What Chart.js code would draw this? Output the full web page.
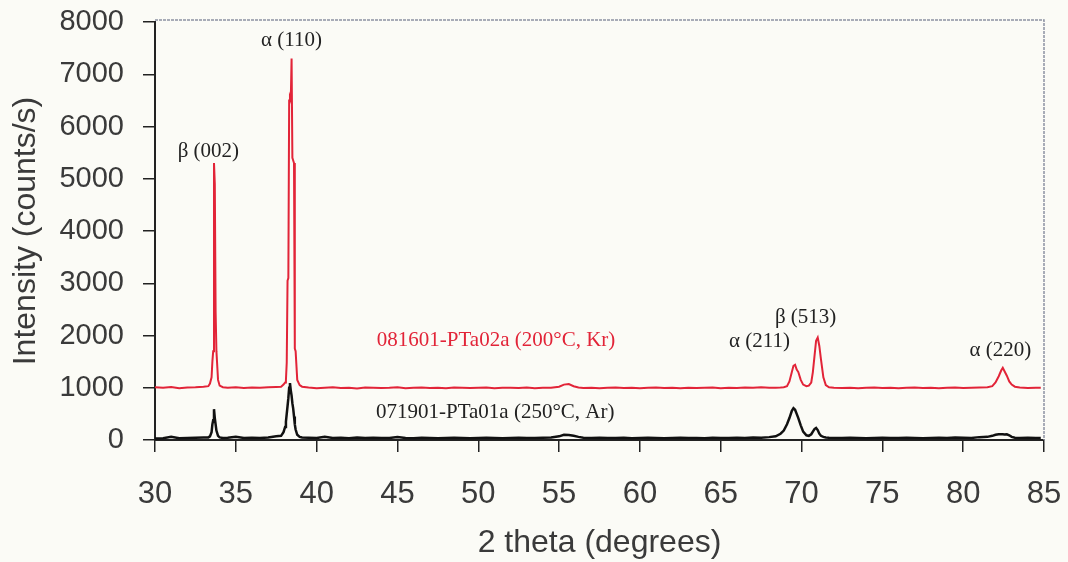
<!DOCTYPE html>
<html>
<head>
<meta charset="utf-8">
<script src="https://cdn.jsdelivr.net/npm/chart.js@4/dist/chart.umd.min.js"></script>
<style>
  html, body { margin: 0; padding: 0; background: #fbfbf6; }
  #box { width: 1068px; height: 562px; }
</style>
</head>
<body>
<div id="box"><canvas id="xrdChart"></canvas></div>
<script>
// 2 theta positions (degrees), shared by both scans
const twoTheta = [
    30.0, 30.5, 31.0, 31.5, 32.0, 32.5, 33.0,
    33.3, 33.4, 33.5, 33.55, 33.6, 33.65, 33.7, 33.75, 33.8, 33.9, 34.0, 34.2,
    34.5, 35.0, 35.5, 36.0, 36.5, 37.0, 37.5,
    37.8, 37.95, 38.05, 38.1, 38.15, 38.2, 38.25, 38.3, 38.35, 38.4,
    38.45, 38.5, 38.55, 38.6, 38.65, 38.7, 38.8, 38.95, 39.1,
    39.5, 40.0, 40.5, 41.0, 41.5, 42.0, 42.5, 43.0, 43.5, 44.0,
    44.5, 45.0, 45.5, 46.0, 46.5, 47.0, 47.5, 48.0, 48.5, 49.0,
    49.5, 50.0, 50.5, 51.0, 51.5, 52.0, 52.5, 53.0, 53.5, 54.0,
    54.5, 55.0, 55.3, 55.6, 55.9, 56.2, 56.5, 57.0, 57.5, 58.0,
    58.5, 59.0, 59.5, 60.0, 60.5, 61.0, 61.5, 62.0, 62.5, 63.0,
    63.5, 64.0, 64.5, 65.0, 65.5, 66.0, 66.5, 67.0, 67.5, 68.0,
    68.4, 68.7, 68.9, 69.1, 69.25, 69.4, 69.5, 69.6, 69.7, 69.8,
    69.95, 70.1, 70.3, 70.45, 70.6, 70.7, 70.8, 70.9, 71.0, 71.1,
    71.2, 71.35, 71.5, 71.7, 72.0,
    72.5, 73.0, 73.5, 74.0, 74.5, 75.0, 75.5, 76.0, 76.5, 77.0,
    77.5, 78.0, 78.5, 79.0, 79.5, 80.0, 80.5, 81.0, 81.5,
    81.8, 82.0, 82.2, 82.35, 82.45, 82.55, 82.7, 82.85, 83.0, 83.2,
    83.5, 84.0, 84.5, 84.8
];

// 081601-PTa02a (200°C, Kr), counts/s
const krIntensity = [
    1010, 1000, 1015, 990, 1005, 1010, 1020,
    1030, 1080, 1200, 1500, 1700, 5300, 4900, 2450, 1700, 1150, 1040, 1010,
    1000, 1010, 995, 1005, 1000, 1010, 1015,
    1020, 1060, 1100, 1150, 1480, 3050, 3100, 6500, 6550, 6500,
    7300, 5400, 5350, 5300, 1750, 1700, 1150, 1050, 1020,
    1005, 990, 1000, 1010, 995, 1000, 985, 1005, 1000, 995,
    1000, 1010, 990, 1000, 1005, 995, 1000, 990, 1005, 1000,
    995, 1000, 1005, 990, 1000, 1000, 995, 1005, 990, 1000,
    1000, 1020, 1060, 1070, 1030, 1005, 995, 1000, 990, 1000,
    1005, 995, 1000, 990, 1000, 1005, 995, 1000, 990, 1000,
    995, 1000, 1005, 990, 1000, 995, 1005, 1000, 1010, 1000,
    1000, 1005, 1010, 1030, 1120, 1300, 1420, 1440, 1350, 1300,
    1150, 1060, 1030, 1040, 1100, 1300, 1600, 1900, 1960, 1800,
    1550, 1200, 1050, 1010, 1000,
    995, 1000, 990, 1000, 1005, 995, 1000, 990, 1000, 1005,
    995, 1000, 990, 1000, 1005, 995, 1000, 1005, 1010,
    1030, 1100, 1220, 1330, 1380, 1320, 1230, 1120, 1060, 1020,
    1005, 995, 1000, 1000
];

// 071901-PTa01a (250°C, Ar), counts/s
const arIntensity = [
    30, 35, 60, 35, 40, 45, 50,
    50, 70, 150, 300, 380, 590, 420, 300, 180, 80, 50, 40,
    45, 60, 40, 45, 40, 50, 70,
    80, 150, 250, 350, 500, 650, 800, 1000, 1090, 950,
    850, 700, 600, 450, 300, 200, 100, 60, 50,
    45, 40, 60, 40, 45, 35, 50, 40, 45, 40,
    40, 55, 40, 35, 45, 40, 35, 40, 45, 40,
    35, 40, 45, 40, 35, 40, 45, 40, 40, 45,
    50, 70, 100, 95, 80, 60, 45, 40, 45, 40,
    40, 45, 35, 40, 45, 40, 35, 40, 45, 40,
    40, 35, 45, 40, 40, 45, 40, 50, 45, 55,
    70, 120, 180, 300, 420, 560, 610, 580, 500, 420,
    280, 160, 90, 80, 110, 160, 210, 230, 190, 120,
    80, 60, 50, 45, 40,
    40, 45, 40, 35, 40, 45, 40, 40, 45, 40,
    35, 40, 45, 40, 50, 45, 40, 55, 60,
    80, 100, 110, 110, 110, 105, 110, 90, 60, 45,
    40, 45, 40, 40
];

// peak indexing labels (anchored in data units)
const peakNames = ['β (002)', 'α (110)', 'α (211)', 'β (513)', 'α (220)'];
const peakNameX = [33.3, 38.45, 67.4, 70.25, 82.3];
const peakNameY = [5530, 7640, 1890, 2340, 1715];

// sample labels written next to each scan
const sampleNames = ['081601-PTa02a (200°C, Kr)', '071901-PTa01a (250°C, Ar)'];
const sampleNameX = [51.1, 51.05];
const sampleNameY = [1900, 520];

const xTicks = [30, 35, 40, 45, 50, 55, 60, 65, 70, 75, 80, 85];
const yTicks = [0, 1000, 2000, 3000, 4000, 5000, 6000, 7000, 8000];

const RED = 'rgb(226, 36, 56)';
const INK = '#222222';

// frame on top and right of the plot (dotted grey in the scan)
const framePlugin = {
    id: 'frame',
    beforeDatasetsDraw(chart) {
        const { ctx, chartArea: a } = chart;
        ctx.save();
        ctx.strokeStyle = '#8d93a2';
        ctx.lineWidth = 1.5;
        ctx.setLineDash([3, 1]);
        ctx.beginPath();
        ctx.moveTo(a.left, a.top - 2);
        ctx.lineTo(a.right, a.top - 2);
        ctx.lineTo(a.right, a.bottom);
        ctx.stroke();
        ctx.restore();
    }
};

// text labels placed through the chart scales
const labelPlugin = {
    id: 'labels',
    afterDatasetsDraw(chart) {
        const { ctx, scales } = chart;
        ctx.save();
        ctx.font = "21px 'Liberation Serif', serif";
        ctx.textAlign = 'center';
        ctx.textBaseline = 'middle';
        ctx.fillStyle = INK;
        peakNames.forEach((t, i) => {
            ctx.fillText(t, scales.x.getPixelForValue(peakNameX[i]), scales.y.getPixelForValue(peakNameY[i]));
        });
        sampleNames.forEach((t, i) => {
            ctx.fillStyle = i === 0 ? RED : INK;
            ctx.fillText(t, scales.x.getPixelForValue(sampleNameX[i]), scales.y.getPixelForValue(sampleNameY[i]));
        });
        ctx.restore();
    }
};

const ctx = document.getElementById('xrdChart').getContext('2d');
const xrdChart = new Chart(ctx, {
    type: 'line',
    data: {
        datasets: [{
            label: sampleNames[0],
            data: twoTheta.map((x, i) => ({ x: x, y: krIntensity[i] })),
            borderColor: RED,
            borderWidth: 2,
            pointRadius: 0,
            tension: 0
        }, {
            label: sampleNames[1],
            data: twoTheta.map((x, i) => ({ x: x, y: arIntensity[i] })),
            borderColor: '#111111',
            borderWidth: 2.5,
            pointRadius: 0,
            tension: 0
        }]
    },
    options: {
        responsive: true,
        maintainAspectRatio: false,
        animation: false,
        layout: {
            padding: { top: 22, right: 24, left: 0, bottom: 0 }
        },
        plugins: {
            legend: { display: false },
            tooltip: { enabled: false }
        },
        scales: {
            x: {
                type: 'linear',
                min: 30,
                max: 85,
                afterBuildTicks: (s) => { s.ticks = xTicks.map(v => ({ value: v })); },
                afterFit: (s) => { s.height = 122; s.paddingLeft = 0; s.paddingRight = 0; },
                grid: { drawOnChartArea: false, drawTicks: true, tickLength: 12, color: INK, lineWidth: 1.5 },
                border: { color: INK, width: 2 },
                ticks: {
                    padding: 24,
                    color: '#3a3a3a',
                    callback: (v) => String(v),
                    font: { size: 31, family: "'Liberation Sans', sans-serif" }
                },
                title: {
                    display: true,
                    text: '2 theta (degrees)',
                    color: '#3a3a3a',
                    padding: { top: 4, bottom: 0 },
                    font: { size: 32, family: "'Liberation Sans', sans-serif" }
                }
            },
            y: {
                min: 0,
                max: 8000,
                afterBuildTicks: (s) => { s.ticks = yTicks.map(v => ({ value: v })); },
                afterFit: (s) => { s.width = 155; s.paddingTop = 0; s.paddingBottom = 0; },
                grid: { drawOnChartArea: false, drawTicks: true, tickLength: 12, color: INK, lineWidth: 1.5 },
                border: { color: INK, width: 2 },
                ticks: {
                    padding: 19,
                    color: '#3a3a3a',
                    callback: (v) => String(v),
                    font: { size: 29, family: "'Liberation Sans', sans-serif" }
                },
                title: {
                    display: true,
                    text: 'Intensity (counts/s)',
                    color: '#3a3a3a',
                    padding: { top: 7, bottom: 4 },
                    font: { size: 32, family: "'Liberation Sans', sans-serif" }
                }
            }
        }
    },
    plugins: [framePlugin, labelPlugin]
});
</script>
</body>
</html>
